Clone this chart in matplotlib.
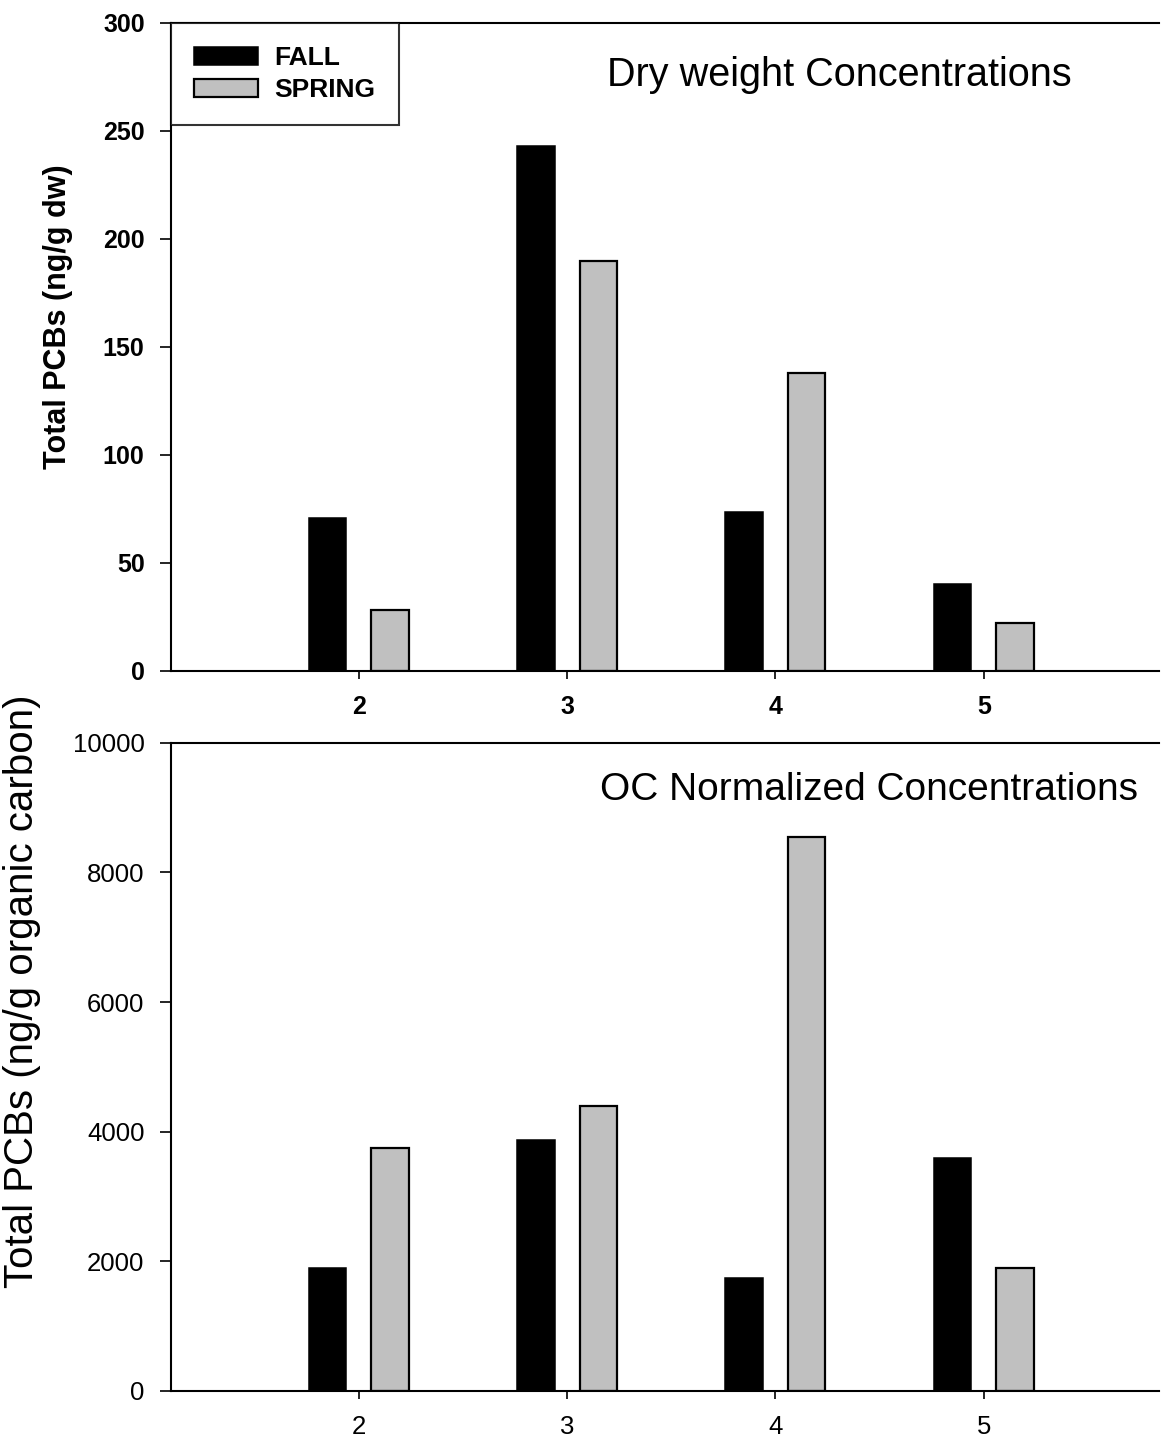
import matplotlib
matplotlib.use("Agg")
import matplotlib.pyplot as plt
import numpy as np
from matplotlib.patches import Patch

plt.rcParams['font.family'] = ['Liberation Sans', 'DejaVu Sans']

# ---- data ----
sites = [2, 3, 4, 5]
site_labels = ['2', '3', '4', '5']
dw_fall = [70.5, 242.7, 73.3, 40.0]
dw_spring = [27.9, 189.7, 137.9, 22.2]
oc_fall = [1893, 3873, 1739, 3596]
oc_spring = [3745, 4398, 8545, 1893]
dw_yticks = [0, 50, 100, 150, 200, 250, 300]
oc_yticks = [0, 2000, 4000, 6000, 8000, 10000]

W, H = 1161, 1437
fig = plt.figure(figsize=(W / 100, H / 100), dpi=100)

def px_axes(l, t, r, b):
    return fig.add_axes([l / W, 1 - b / H, (r - l) / W, (b - t) / H])

ax1 = px_axes(171, 22.7, 1159, 670.7)
ax2 = px_axes(171, 742.7, 1159, 1391)

bw = 0.18
off = 0.15
x = np.array(sites, dtype=float)
gray = '#c0c0c0'

def style(ax, yticks, bold, size):
    ax.set_xlim(1.1, 5.84)
    ax.set_ylim(yticks[0], yticks[-1])
    ax.set_yticks(yticks)
    ax.set_xticks(sites)
    ax.set_xticklabels(site_labels)
    for s in ['left', 'bottom', 'top']:
        ax.spines[s].set_linewidth(1.5)
    ax.spines['right'].set_visible(False)
    ax.tick_params(axis='y', direction='out', length=8, width=1.2, pad=11,
                   labelsize=size)
    ax.tick_params(axis='x', direction='out', length=5.5, width=1.2, pad=12,
                   labelsize=size)
    for lab in ax.get_xticklabels() + ax.get_yticklabels():
        lab.set_fontweight('bold' if bold else 'normal')

for ax, f, s in [(ax1, dw_fall, dw_spring), (ax2, oc_fall, oc_spring)]:
    ax.bar(x - off, f, width=bw, color='black', edgecolor='black', linewidth=1.1, zorder=2)
    ax.bar(x + off, s, width=bw, color=gray, edgecolor='black', linewidth=1.6, zorder=2)

style(ax1, dw_yticks, True, 18)
style(ax2, oc_yticks, False, 18.5)

# legend
handles = [Patch(facecolor='black', edgecolor='black', linewidth=1.1, label='FALL'),
           Patch(facecolor=gray, edgecolor='black', linewidth=1.6, label='SPRING')]
leg = ax1.legend(handles=handles, loc='upper left', bbox_to_anchor=(0.0, 1.0),
                 borderaxespad=0, frameon=True, fancybox=False,
                 prop={'weight': 'bold', 'size': 19}, handlelength=2.42,
                 handleheight=0.68, handletextpad=0.63, labelspacing=0.3,
                 borderpad=0.88)
leg.get_frame().set_edgecolor('black')
leg.get_frame().set_linewidth(1.5)

# titles inside panels
fig.text(839.5 / W, 1 - 75 / H, 'Dry weight Concentrations', fontsize=28.5,
         ha='center', va='center')
fig.text(869 / W, 1 - 790 / H, 'OC Normalized Concentrations', fontsize=28,
         ha='center', va='center')

# y labels
fig.text(58 / W, 1 - 317 / H, 'Total PCBs (ng/g dw)', rotation=90, fontsize=22,
         fontweight='bold', ha='center', va='center')
fig.text(22 / W, 1 - 991 / H, 'Total PCBs (ng/g organic carbon)', rotation=90,
         fontsize=29, ha='center', va='center')

fig.savefig('out.png', dpi=100)
